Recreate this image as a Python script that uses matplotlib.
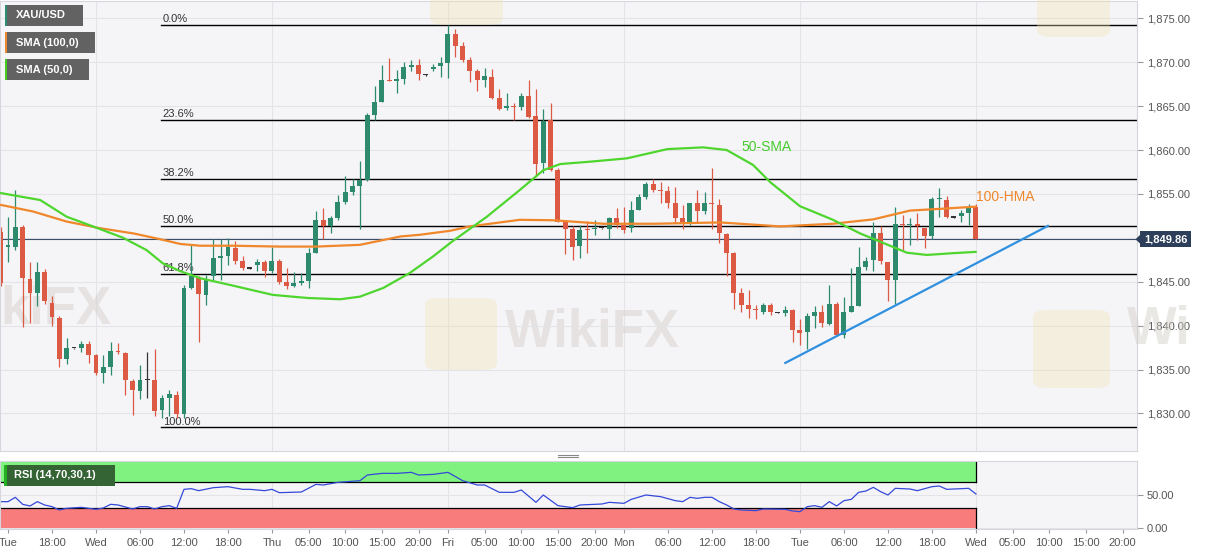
import matplotlib
matplotlib.use('Agg')
import matplotlib.pyplot as plt
import numpy as np
from matplotlib.patches import Rectangle, Polygon, FancyBboxPatch
from matplotlib.ticker import FuncFormatter

plt.rcParams['font.family'] = ['Liberation Sans', 'DejaVu Sans']

# hourly bars, x = hours from Wed 00:00 (first Wed on the chart)
hours = list(range(-13, 121))

opens = [1850.7, 1849.0, 1849.0, 1851.2, 1845.3, 1843.7, 1846.1, 1842.6, 1840.9, 1836.25,
         1837.4, 1837.4, 1837.95, 1836.6, 1834.6, 1835.25, 1837.1, 1836.9, 1833.7, 1832.6,
         1833.8, 1833.85, 1830.4, 1831.8, 1832.15, 1829.9, 1844.3, 1845.4, 1843.5, 1845.7,
         1847.7, 1847.95, 1848.8, 1847.4, 1846.5, 1846.9, 1847.2, 1846.2, 1847.4, 1845.0,
         1844.5, 1844.9, 1845.1, 1848.3, 1852.0, 1851.35, 1852.2, 1854.1, 1855.2, 1855.9,
         1856.6, 1864.0, 1865.5, 1868.0, 1867.9, 1868.1, 1869.4, 1869.65, 1868.5, 1869.2,
         1869.6, 1869.9, 1873.25, 1871.85, 1870.2, 1869.0, 1867.95, 1868.3, 1865.9, 1864.8,
         1864.95, 1864.85, 1866.2, 1863.9, 1858.5, 1863.4, 1857.7, 1851.85, 1851.0, 1849.1,
         1851.0, 1850.95, 1851.1, 1851.0, 1852.25, 1851.5, 1851.1, 1853.2, 1854.6, 1856.1,
         1855.45, 1855.3, 1854.0, 1852.3, 1851.75, 1854.0, 1853.0, 1853.95, 1853.7, 1850.45,
         1848.3, 1843.7, 1842.4, 1841.9, 1841.55, 1842.3, 1841.45, 1841.4, 1841.75, 1839.55,
         1839.25, 1841.05, 1841.6, 1840.2, 1842.5, 1838.95, 1841.6, 1842.2, 1846.7, 1847.5,
         1850.6, 1847.3, 1845.15, 1851.6, 1851.45, 1851.6, 1851.1, 1850.2, 1854.4, 1854.25,
         1852.3, 1852.5, 1852.8, 1853.55]
highs = [1851.2, 1852.4, 1855.45, 1851.5, 1847.2, 1847.2, 1846.5, 1843.4, 1841.1, 1838.6,
         1837.5, 1838.3, 1838.2, 1836.8, 1836.6, 1838.15, 1838.0, 1837.0, 1833.9, 1835.5,
         1837.0, 1837.35, 1832.1, 1832.65, 1832.6, 1844.6, 1849.3, 1845.7, 1845.8, 1849.9,
         1849.9, 1850.0, 1849.6, 1847.9, 1846.6, 1847.6, 1847.5, 1848.9, 1847.6, 1846.6,
         1846.1, 1846.0, 1848.8, 1853.0, 1853.4, 1852.5, 1854.9, 1857.0, 1856.7, 1858.8,
         1864.2, 1867.3, 1869.65, 1870.5, 1869.1, 1870.0, 1870.2, 1870.4, 1868.6, 1869.8,
         1870.6, 1874.2, 1873.8, 1872.3, 1870.6, 1869.2, 1869.3, 1869.2, 1866.9, 1866.5,
         1865.3, 1866.5, 1868.0, 1866.9, 1864.7, 1865.3, 1857.9, 1852.05, 1851.3, 1851.45,
         1851.9, 1852.0, 1851.15, 1852.4, 1853.4, 1853.55, 1854.2, 1855.0, 1856.3, 1856.7,
         1856.3, 1855.9, 1855.8, 1853.75, 1854.0, 1855.5, 1855.2, 1858.0, 1854.4, 1850.5,
         1848.35, 1844.3, 1844.0, 1842.4, 1842.6, 1842.6, 1841.5, 1842.2, 1841.9, 1840.7,
         1841.4, 1842.2, 1842.3, 1844.65, 1842.65, 1843.3, 1846.55, 1849.0, 1847.8, 1851.85,
         1851.35, 1847.3, 1853.55, 1852.6, 1852.3, 1852.8, 1851.15, 1854.6, 1855.65, 1854.8,
         1852.35, 1853.2, 1853.9, 1853.8]
lows = [1844.5, 1847.3, 1848.6, 1839.8, 1840.3, 1842.2, 1842.5, 1840.0, 1835.3, 1835.6,
        1837.3, 1837.0, 1835.7, 1834.4, 1833.5, 1834.4, 1836.8, 1832.1, 1829.8, 1831.6,
        1831.7, 1829.7, 1829.5, 1829.7, 1829.5, 1829.5, 1844.2, 1838.1, 1842.3, 1845.2,
        1845.2, 1846.9, 1847.0, 1846.3, 1846.4, 1846.2, 1845.5, 1846.0, 1844.7, 1844.2,
        1844.4, 1844.6, 1844.3, 1848.3, 1849.85, 1850.5, 1852.0, 1853.9, 1854.9, 1851.0,
        1856.5, 1863.4, 1865.5, 1867.85, 1866.5, 1867.5, 1869.0, 1868.0, 1868.4, 1868.95,
        1868.3, 1868.15, 1870.6, 1870.0, 1867.8, 1866.7, 1867.2, 1865.8, 1864.5, 1864.5,
        1863.4, 1864.5, 1863.6, 1857.0, 1857.35, 1857.65, 1851.8, 1848.15, 1847.5, 1847.7,
        1848.3, 1850.3, 1851.05, 1849.85, 1851.1, 1850.5, 1850.7, 1853.15, 1854.4, 1855.2,
        1853.95, 1853.4, 1851.7, 1851.0, 1851.5, 1851.85, 1852.7, 1851.0, 1849.45, 1845.6,
        1841.9, 1841.6, 1840.9, 1840.8, 1841.3, 1841.25, 1841.4, 1841.1, 1838.1, 1837.8,
        1837.3, 1839.7, 1839.85, 1840.1, 1838.8, 1838.6, 1841.6, 1842.2, 1846.35, 1846.2,
        1847.0, 1842.75, 1842.5, 1848.6, 1849.2, 1849.7, 1848.85, 1849.9, 1852.4, 1852.2,
        1852.25, 1851.8, 1851.5, 1849.86]
closes = [1844.9, 1849.1, 1851.2, 1845.4, 1843.7, 1846.1, 1842.8, 1841.0, 1836.25, 1837.4,
          1837.4, 1837.95, 1836.6, 1834.6, 1835.25, 1837.1, 1836.95, 1833.75, 1832.65, 1833.8,
          1833.85, 1830.3, 1831.7, 1832.2, 1829.95, 1844.3, 1845.6, 1843.6, 1845.2, 1847.7,
          1847.95, 1848.9, 1847.4, 1846.55, 1846.5, 1847.2, 1846.2, 1847.4, 1845.0, 1844.5,
          1844.9, 1845.05, 1848.3, 1852.0, 1851.35, 1852.2, 1854.1, 1855.2, 1855.9, 1856.6,
          1864.0, 1865.5, 1868.0, 1867.85, 1868.1, 1869.4, 1869.65, 1868.6, 1868.5, 1869.5,
          1869.9, 1873.25, 1871.9, 1870.3, 1869.0, 1867.95, 1868.4, 1865.9, 1864.7, 1865.0,
          1864.85, 1866.1, 1863.8, 1858.4, 1863.3, 1857.7, 1851.85, 1851.0, 1849.0, 1850.9,
          1850.85, 1851.05, 1851.1, 1852.25, 1851.5, 1850.9, 1853.2, 1854.6, 1856.1, 1855.45,
          1855.3, 1854.0, 1852.3, 1851.75, 1854.0, 1853.0, 1853.95, 1853.85, 1850.5, 1848.3,
          1843.7, 1842.4, 1841.9, 1841.75, 1842.3, 1841.5, 1841.45, 1841.75, 1839.55, 1839.2,
          1841.05, 1841.6, 1840.3, 1842.5, 1838.95, 1841.6, 1842.2, 1846.7, 1847.4, 1850.6,
          1847.4, 1845.15, 1851.6, 1851.45, 1851.6, 1851.3, 1850.2, 1854.4, 1854.5, 1852.4,
          1852.3, 1852.8, 1853.45, 1849.86]

sma50_x = [-13, -7.6, -4, -0.1, 3.7, 6.9, 9.1, 11.5, 14.2, 18.7, 24.1, 28.8, 33.3, 36, 39.2,
           42.8, 46, 48.6, 53.3, 57.8, 61, 63.3, 67.8, 72.4, 77.9, 82.8, 86, 89.6, 92, 96,
           100.5, 104.2, 107.4, 110.6, 113.3, 116.9, 120]
sma50_v = [1855.1, 1854.3, 1852.4, 1851.2, 1850.0, 1848.6, 1847.1, 1846.2, 1845.4, 1844.55,
           1843.5, 1843.15, 1843.0, 1843.3, 1844.3, 1846.0, 1847.9, 1849.6, 1852.4, 1855.45,
           1857.7, 1858.4, 1858.7, 1859.05, 1860.1, 1860.3, 1860.0, 1858.3, 1856.3, 1853.6,
           1852.05, 1850.5, 1849.4, 1848.3, 1848.05, 1848.25, 1848.4]
sma100_x = [-13, -8.6, -4, 0.5, 5.1, 8.7, 11.5, 14.2, 18.7, 25.1, 30, 36, 41.5, 44.2, 48.3,
            51, 57.8, 62.3, 69.2, 76, 85.1, 93.3, 100.5, 106, 111, 115.1, 120]
sma100_v = [1853.75, 1853.0, 1851.85, 1851.1, 1850.5, 1849.85, 1849.3, 1849.1, 1849.1, 1849.0,
            1849.0, 1849.2, 1850.15, 1850.35, 1850.8, 1851.3, 1852.05, 1852.0, 1851.6, 1851.6,
            1851.75, 1851.3, 1851.6, 1852.1, 1853.1, 1853.3, 1853.55]

rsi_x = [-13, -12, -11, -10, -9, -8, -7, -6, -5, -4, -2, 0, 1, 2, 3, 5, 6, 7, 8, 9,
         10, 11, 12, 13, 14, 16, 18, 20, 21, 23, 24, 25, 28, 30, 31, 33, 36, 37, 39, 41,
         43, 44, 46, 48, 50, 52, 53, 55, 57, 58, 60, 61, 63, 65, 66, 69, 70, 72, 73, 75,
         77, 79, 80, 81, 82, 83, 84, 85, 86, 87, 88, 90, 91, 94, 95, 96, 97, 98, 99, 100,
         101, 102, 103, 104, 105, 106, 107, 108, 109, 111, 112, 114, 115, 116, 119, 120]
rsi_v = [40, 40, 46.5, 36, 33.5, 40, 35, 32.5, 27.5, 30, 31.5, 28.5, 30.5, 36, 35, 29, 32.5, 32.5, 29, 32.5,
         34, 30, 58.5, 59.5, 56.5, 61, 62.5, 58.5, 58.5, 56.5, 58.5, 53.5, 54.5, 66, 65, 69, 71.5, 80, 82.5, 82.5,
         84, 80, 81, 84, 71.5, 65, 65, 54, 54, 57.5, 39, 50, 34, 31, 35, 36.5, 39, 37.5, 43.5, 50,
         47.5, 41.5, 40, 46.5, 45, 46.5, 46.5, 40, 35, 29, 27.5, 26.5, 29, 28.5, 26, 25, 32.5, 34, 31.5, 40,
         33.5, 41.5, 43.5, 54, 56, 61.5, 55, 50, 60, 59, 56.5, 62.5, 63.5, 58.5, 60, 51.5]

fib_high = 1874.24
fib_low = 1828.42
fib_levels = [0.0, 23.6, 38.2, 50.0, 61.8, 100.0]
fib_start = 8.9
last_price = 1849.86
trend_x = [94, 129.8]
trend_y = [1835.75, 1851.35]

tick_pos = [-12, -6, 0, 6, 12, 18, 24, 29, 34, 39, 44, 48, 53, 58, 63, 68, 72, 78, 84, 90,
            96, 102, 108, 114, 120, 125, 130, 135, 140]
tick_lbl = ['Tue', '18:00', 'Wed', '06:00', '12:00', '18:00', 'Thu', '05:00', '10:00', '15:00',
            '20:00', 'Fri', '05:00', '10:00', '15:00', '20:00', 'Mon', '06:00', '12:00', '18:00',
            'Tue', '06:00', '12:00', '18:00', 'Wed', '05:00', '10:00', '15:00', '20:00']
day_marks = [0, 24, 48, 72, 96, 120]

GREEN = '#2d8a6d'
RED = '#dc5a44'
BG = '#f5f5f7'
GRID = '#e3e3e8'

W, H = 1207, 555
fig = plt.figure(figsize=(W / 100, H / 100), dpi=100, facecolor='white')


def fx(px):
    return px / W


def fy(py):
    return 1 - py / H


ax = fig.add_axes([0, fy(451), fx(1137), fy(1) - fy(451)])
axr = fig.add_axes([0, fy(529.3), fx(1137), fy(460.7) - fy(529.3)], sharex=ax)

xl = (-96 / 7.333, (1137 - 96) / 7.333)

for a in (ax, axr):
    a.set_facecolor(BG)
    for s in a.spines.values():
        s.set_color('#d6d6de')
        s.set_linewidth(0.8)
    for d in day_marks:
        a.axvline(d, color=GRID, lw=0.8, zorder=0.3)

# ---- price panel
ax.set_xlim(*xl)
ax.set_ylim(1825.72, 1876.97)
ax.set_yticks(np.arange(1830, 1876, 5))
# 1,850.00 sits under the last-price tag
ax.yaxis.set_major_formatter(FuncFormatter(lambda v, p: '' if abs(v - 1850) < 0.1 else f'{v:,.2f}'))
ax.yaxis.tick_right()
ax.tick_params(axis='y', length=4, width=0.8, color='#999999', pad=3, labelsize=8, labelcolor='#555555')
ax.tick_params(axis='x', length=0, labelbottom=False)
ax.grid(axis='y', color=GRID, lw=0.8, zorder=0.3)
ax.set_axisbelow(True)

# watermarks
ax.text(505 / 1137, (451 - 333) / 450, 'WikiFX', transform=ax.transAxes, fontsize=38,
        fontweight='bold', color='#d2cdc7', alpha=0.45, va='center', ha='left', zorder=0.5)
ax.text(0, (451 - 310) / 450, 'kiFX', transform=ax.transAxes, fontsize=38,
        fontweight='bold', color='#d2cdc7', alpha=0.45, va='center', ha='left', zorder=0.5)
fig.text(fx(1127), fy(330), 'Wi', fontsize=38, fontweight='bold', color='#d2cdc7', alpha=0.45,
         va='center', ha='left', zorder=0.5)
for (px, py, w, h) in [(425, 298, 72, 72), (1033, 310, 77, 78), (430, -47, 73, 72), (1037, -40, 73, 77)]:
    fig.add_artist(FancyBboxPatch((fx(px), fy(py + h)), w / W, h / H,
                                  boxstyle='round,pad=0,rounding_size=0.012', transform=fig.transFigure,
                                  fc='#f2e2b0', ec='none', alpha=0.35, zorder=0.5))

# fibonacci retracement
for lvl in fib_levels:
    p = fib_high - (fib_high - fib_low) * lvl / 100
    ax.plot([fib_start, xl[1]], [p, p], color='black', lw=1.0, zorder=1)
    ax.annotate(f'{lvl:.1f}%', (fib_start, p), xytext=(1, 0.5), textcoords='offset points',
                ha='left', va='bottom', fontsize=8, color='#333333', zorder=1)

ax.axhline(last_price, color='#3b4f6b', lw=0.8, zorder=1.2)

# candles
o = np.array(opens)
c = np.array(closes)
x = np.array(hours)
cols = np.where(c > o + 0.06, GREEN, np.where(c < o - 0.06, RED, '#333333'))
ax.vlines(x, lows, highs, colors=cols, lw=0.9, zorder=2)
ax.bar(x, np.maximum(np.abs(c - o), 0.15), 0.68, bottom=np.minimum(o, c), color=cols, lw=0, zorder=2.1)

ax.plot(sma100_x, sma100_v, color='#f0872a', lw=1.6, zorder=3, solid_capstyle='round')
ax.plot(sma50_x, sma50_v, color='#4fd62e', lw=1.6, zorder=3, solid_capstyle='round')
ax.plot(trend_x, trend_y, color='#2f90e0', lw=1.6, zorder=3)
ax.text(87.96, 1860.34, '50-SMA', color='#45cc2c', fontsize=10, va='center', ha='left', zorder=4)
ax.text(120.05, 1854.65, '100-HMA', color='#f0872a', fontsize=10, va='center', ha='left', zorder=4)

# ---- RSI panel
axr.set_ylim(-1.5, 101.5)
axr.fill_between([xl[0], 120], 70, 100, color='#80f280', lw=0, zorder=0.6)
axr.fill_between([xl[0], 120], 0, 30, color='#f87c7c', lw=0, zorder=0.6)
axr.plot([xl[0], 120], [70, 70], color='black', lw=0.9, zorder=1)
axr.plot([xl[0], 120], [30, 30], color='black', lw=0.9, zorder=1)
axr.plot([120, 120], [70, 100], color='black', lw=0.9, zorder=1)
axr.plot([120, 120], [0, 30], color='black', lw=0.9, zorder=1)
axr.plot(rsi_x, rsi_v, color='#3449d8', lw=0.9, zorder=2)
axr.set_yticks([0, 50])
axr.set_yticklabels(['0.00', '50.00'])
axr.yaxis.tick_right()
axr.grid(axis='y', color=GRID, lw=0.8, zorder=0.3)
axr.set_axisbelow(True)
axr.tick_params(axis='y', length=4, width=0.8, color='#999999', pad=3, labelsize=8, labelcolor='#555555')
axr.set_xticks(tick_pos)
axr.set_xticklabels(tick_lbl)
axr.tick_params(axis='x', length=3, width=0.8, color='#999999', pad=3, labelsize=8, labelcolor='#555555')
axr.set_xlim(*xl)


# ---- overlay boxes (figure pixel coords)
def box(x0, y0, x1, y1, color, z=10):
    fig.add_artist(Rectangle((fx(x0), fy(y1)), fx(x1 - x0), (y1 - y0) / H,
                             transform=fig.transFigure, fc=color, ec='none', zorder=z))


for (label, y0, w, stripe) in [('XAU/USD', 5, 78, '#2e8b74'),
                               ('SMA (100,0)', 32, 90, '#e8892f'),
                               ('SMA (50,0)', 59, 84, '#44cc22')]:
    box(5, y0, 5 + w, y0 + 21, '#626262')
    box(5, y0, 7, y0 + 21, stripe, 11)
    fig.text(fx(16), fy(y0 + 10.5), label, color='white', fontsize=8, fontweight='bold',
             va='center', ha='left', zorder=12)

box(4, 465, 115, 486, '#346434')
box(4, 465, 7, 486, '#22b022', 11)
fig.text(fx(14), fy(475.5), 'RSI (14,70,30,1)', color='white', fontsize=8, fontweight='bold',
         va='center', ha='left', zorder=12)

# last price tag
box(1140, 231.5, 1191, 247, '#2c3e5a')
fig.add_artist(Polygon([(fx(1135.5), fy(239.3)), (fx(1140.5), fy(234.5)), (fx(1140.5), fy(244))],
                       closed=True, transform=fig.transFigure, fc='#2c3e5a', ec='none', zorder=10))
fig.text(fx(1165.5), fy(239.5), f'{last_price:,.2f}', color='white', fontsize=8, fontweight='bold',
         va='center', ha='center', zorder=12)

# panel separator handle
for yy in (454.5, 457):
    fig.add_artist(plt.Line2D([fx(558), fx(578)], [fy(yy), fy(yy)], transform=fig.transFigure,
                              color='#888888', lw=0.8))

fig.savefig('out.png', dpi=100, facecolor=fig.get_facecolor())
